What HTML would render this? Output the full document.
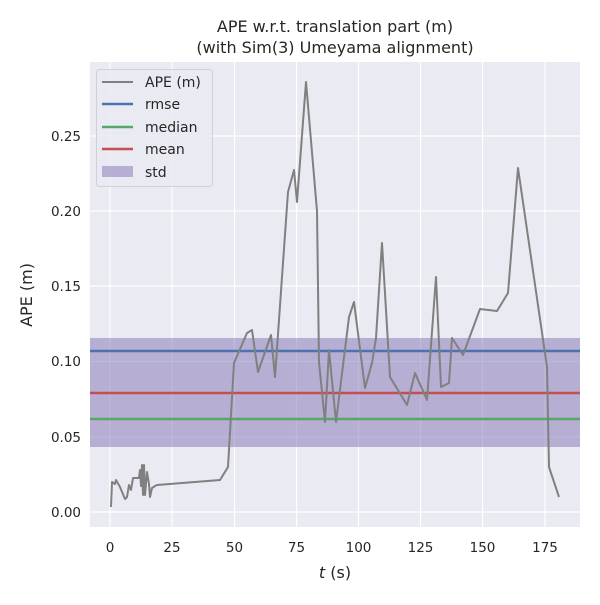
<!DOCTYPE html>
<html><head><meta charset="utf-8"><style>body{margin:0;background:#fff}</style></head><body>
<svg width="600" height="600" xmlns="http://www.w3.org/2000/svg" font-family="DejaVu Sans, Liberation Sans, sans-serif" fill="#262626">
<rect x="90" y="62" width="490" height="465" fill="#eaeaf2"/>
<g stroke="#fff" stroke-width="1.2">
<line x1="110" y1="62" x2="110" y2="527"/><line x1="172" y1="62" x2="172" y2="527"/><line x1="234.5" y1="62" x2="234.5" y2="527"/><line x1="296.5" y1="62" x2="296.5" y2="527"/><line x1="358.5" y1="62" x2="358.5" y2="527"/><line x1="420.5" y1="62" x2="420.5" y2="527"/><line x1="482.5" y1="62" x2="482.5" y2="527"/><line x1="545" y1="62" x2="545" y2="527"/>
<line x1="90" y1="512" x2="580" y2="512"/><line x1="90" y1="437" x2="580" y2="437"/><line x1="90" y1="361.5" x2="580" y2="361.5"/><line x1="90" y1="286" x2="580" y2="286"/><line x1="90" y1="211" x2="580" y2="211"/><line x1="90" y1="136" x2="580" y2="136"/>
</g>
<rect x="90" y="338" width="490" height="109" fill="#8172b3" fill-opacity="0.5"/>
<line x1="90" y1="351" x2="580" y2="351" stroke="#4c72b0" stroke-width="2.5"/>
<line x1="90" y1="419" x2="580" y2="419" stroke="#55a868" stroke-width="2.5"/>
<line x1="90" y1="393" x2="580" y2="393" stroke="#c44e52" stroke-width="2.5"/>
<polyline fill="none" stroke="#808080" stroke-width="2" stroke-linejoin="round" points="111,507 112,482 115,484 116,480 120,487 125,499 127,497 129,485 131,490 133,478 139,478 140,470 141,486 142,465 143,495 144,465 145,495 147,472 149,484 150,497 152,488 155,486 157,485 220,480 228,467 234,363 247,333 252,330 258,372 271,335 275,377 282,277 288,192 294,170 297,202 306,82 317,211 319,362 325,422 329,350 336,422 349,317 354,302 365,388 372,363 376,338 382,243 390,377 407,405 415,373 427,400 436,277 441,387 449,383 452,338 463,355 480,309 497,311 508,293 518,168 547,367 549,467 559,497"/>
<g font-size="13.5" text-anchor="end">
<text x="81" y="517">0.00</text><text x="81" y="442">0.05</text><text x="81" y="366">0.10</text><text x="81" y="291">0.15</text><text x="81" y="216">0.20</text><text x="81" y="141">0.25</text>
</g>
<g font-size="13.5" text-anchor="middle">
<text x="110" y="552">0</text><text x="172" y="552">25</text><text x="234.5" y="552">50</text><text x="296.5" y="552">75</text><text x="358.5" y="552">100</text><text x="420.5" y="552">125</text><text x="482.5" y="552">150</text><text x="545" y="552">175</text>
<text x="335" y="578" font-size="16"><tspan font-style="italic">t</tspan> (s)</text>
<text x="335" y="32" font-size="16">APE w.r.t. translation part (m)</text>
<text x="335" y="53" font-size="16">(with Sim(3) Umeyama alignment)</text>
</g>
<text transform="translate(32,295) rotate(-90)" font-size="16" text-anchor="middle">APE (m)</text>
<rect x="96.5" y="69.5" width="116" height="117" rx="3" fill="#eaeaf2" fill-opacity="0.8" stroke="#d0d0d8"/>
<line x1="102" y1="82" x2="133" y2="82" stroke="#808080" stroke-width="2"/>
<line x1="102" y1="104" x2="133" y2="104" stroke="#4c72b0" stroke-width="2.5"/>
<line x1="102" y1="127" x2="133" y2="127" stroke="#55a868" stroke-width="2.5"/>
<line x1="102" y1="149" x2="133" y2="149" stroke="#c44e52" stroke-width="2.5"/>
<rect x="102" y="166" width="31" height="11" fill="#8172b3" fill-opacity="0.5"/>
<g font-size="14"><text x="145" y="87">APE (m)</text><text x="145" y="109">rmse</text><text x="145" y="132">median</text><text x="145" y="154">mean</text><text x="145" y="177">std</text></g>
</svg>
</body></html>
